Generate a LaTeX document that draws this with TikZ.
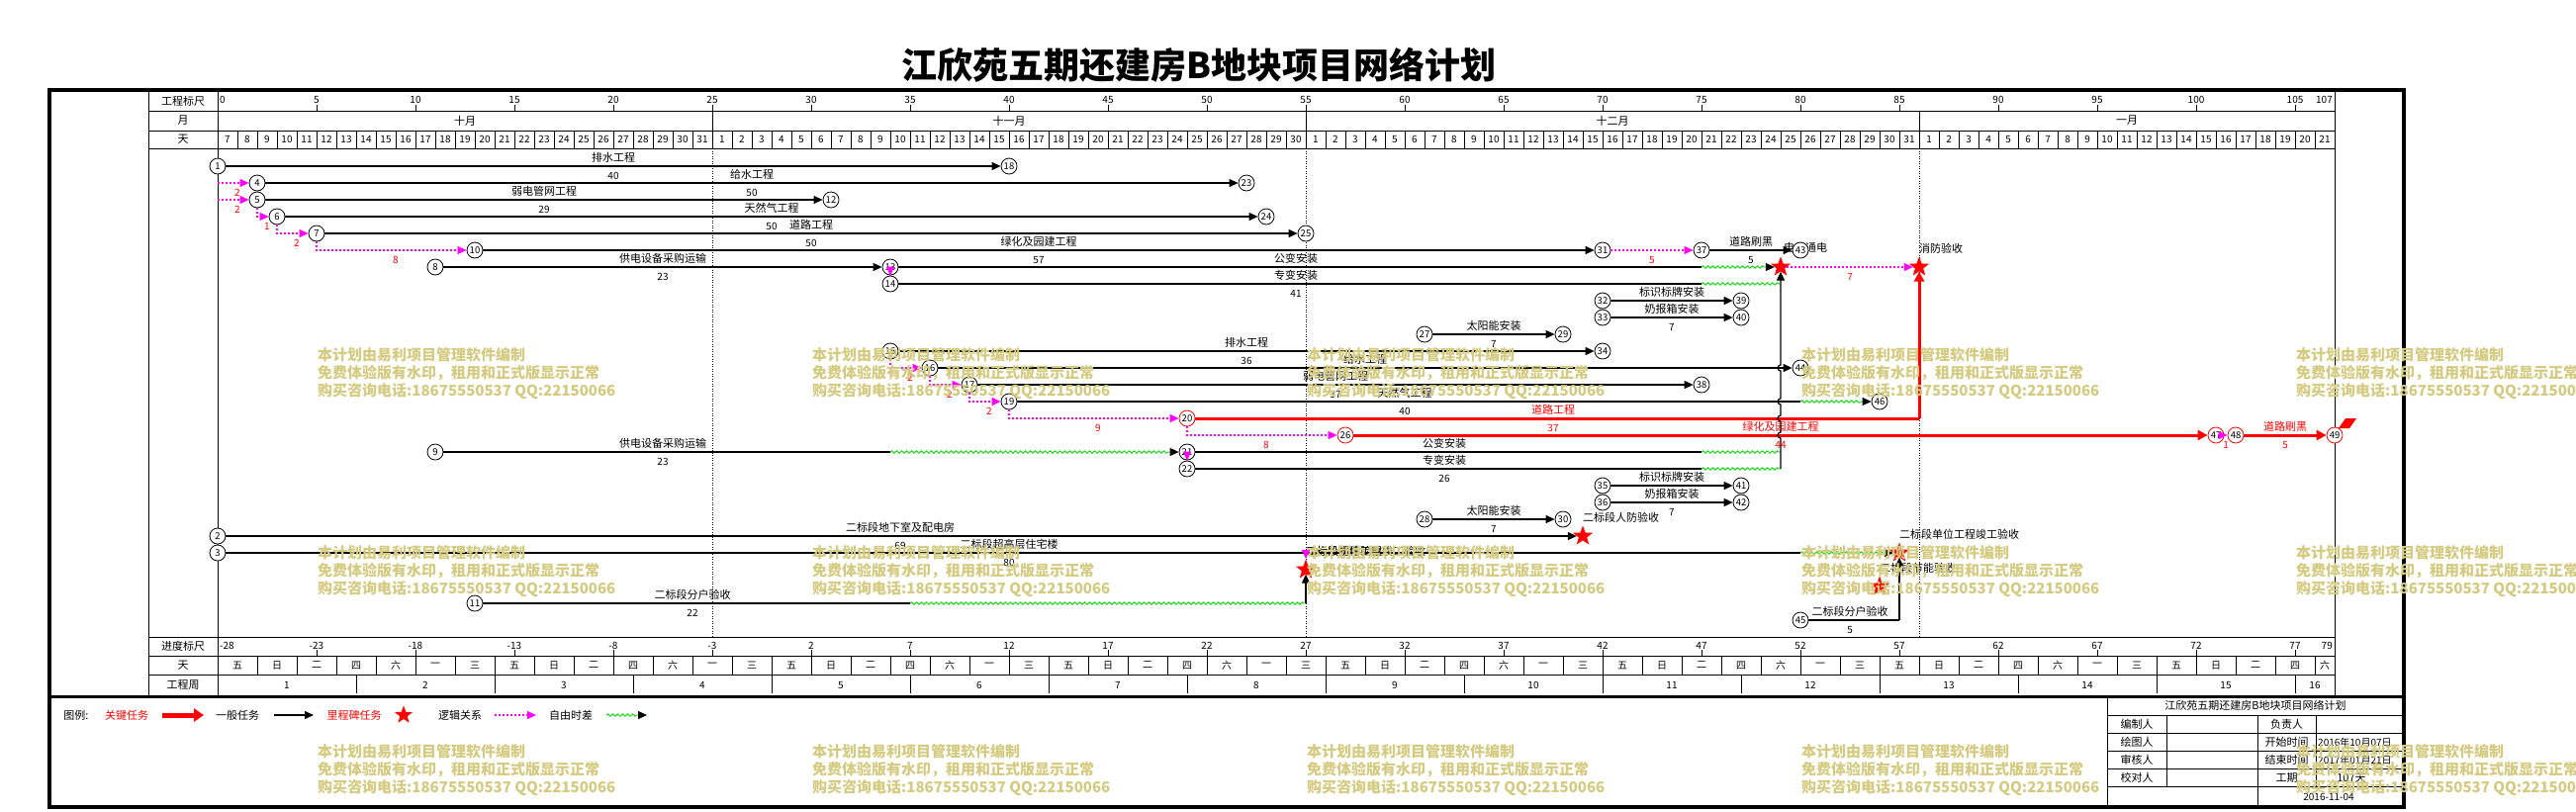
\documentclass[tikz,border=0pt]{standalone}
\usepackage{fontspec}
\setmainfont{Noto Sans CJK SC}
\usetikzlibrary{arrows.meta,shapes.geometric,decorations.pathmorphing}
\definecolor{cred}{RGB}{255,0,0}
\definecolor{cmag}{RGB}{255,0,255}
\definecolor{cgrn}{RGB}{0,220,0}
\definecolor{cwm}{RGB}{212,202,128}
\tikzset{
  f9/.style={font=\fontsize{9.5}{9.5}\selectfont},
  f10/.style={font=\fontsize{10}{10}\selectfont},
  f11/.style={font=\fontsize{11}{11}\selectfont},
  nd/.style={circle,draw,fill=white,inner sep=0pt,minimum size=16pt,line width=0.8pt,f9},
  ndr/.style={nd,draw=cred},
  ms/.style={star,star points=5,star point ratio=2.4,fill=cred,draw=none,inner sep=0pt,minimum size=21pt},
  tk/.style={line width=1.2pt,-{Triangle[length=9pt,width=8pt]}},
  tkn/.style={line width=1.2pt},
  crit/.style={draw=cred,line width=3pt,-{Triangle[length=10pt,width=10pt,color=cred]}},
  critn/.style={draw=cred,line width=3pt},
  lg/.style={draw=cmag,line width=1.2pt,dash pattern=on 1.5pt off 2.5pt,-{Triangle[length=9pt,width=8pt,color=cmag]}},
  wv/.style={draw=cgrn,line width=0.9pt,decorate,decoration={snake,amplitude=1.2pt,segment length=5pt,post length=9pt},-{Triangle[length=9pt,width=8pt,color=black]}},
  wvn/.style={draw=cgrn,line width=0.9pt,decorate,decoration={snake,amplitude=1.2pt,segment length=5pt}},
  nm/.style={f11,inner sep=0pt,yshift=8.5pt},
  du/.style={f10,inner sep=0pt,yshift=-10pt},
  nmr/.style={nm,text=cred},
  dur/.style={du,text=cred},
  msl/.style={f11,anchor=west,inner sep=0pt,yshift=19pt},
  hd/.style={f10,inner sep=0pt},
  hc/.style={f11,inner sep=0pt},
  wmk/.style={text=cwm,font=\fontsize{15}{15}\selectfont\bfseries,anchor=west,inner sep=0pt},
  gl/.style={line width=0.8pt},
  mdot/.style={line width=0.6pt,dash pattern=on 1pt off 1.5pt},
  bump/.style={start angle=-90,end angle=-270,radius=3pt},
}
\begin{document}
\begin{tikzpicture}[x=1pt,y=-1pt]
\fill[white] (0,0) rectangle (2604,820);
\useasboundingbox (0,0) rectangle (2604,820);
% title
\node[font=\fontsize{36}{36}\selectfont\bfseries,inner sep=0pt] (title) at (1212,66) {江欣苑五期还建房B地块项目网络计划};
% frame
\draw[line width=4pt] (50,91) rectangle (2430,816);
\draw[line width=3pt] (50,704) -- (2430,704);
% grid lines
\foreach \yy in {112,132,150,644,663,682} \draw[gl] (150,\yy) -- (2360,\yy);
\draw[gl] (150,91) -- (150,704);
\draw[line width=0.5pt] (220,91) -- (220,704);
\draw[gl] (2360,91) -- (2360,704);
\foreach \mx in {720,1320,1940} {\draw[gl] (\mx,112) -- (\mx,132); \draw[mdot] (\mx,150) -- (\mx,644);}
% label column
\node[hc] (h1) at (185,102) {工程标尺};
\node[hc] (h2) at (185,122) {月};
\node[hc] (h3) at (185,141) {天};
\node[hc] (h4) at (185,653.5) {进度标尺};
\node[hc] (h5) at (185,672.5) {天};
\node[hc] (h6) at (185,692.5) {工程周};
% months
\node[hc] (mo1) at (470,122) {十月};
\node[hc] (mo2) at (1020,122) {十一月};
\node[hc] (mo3) at (1630,122) {十二月};
\node[hc] (mo4) at (2150,122) {一月};
\begin{scope}[shift={(220,0)},x=20pt,y=-1pt]
  \foreach \i in {1,...,106} \draw[line width=0.6pt] (\i,132) -- (\i,150);
  \foreach \i in {0,...,106} {
    \pgfmathtruncatemacro\dd{\i<25 ? \i+7 : (\i<55 ? \i-24 : (\i<86 ? \i-54 : \i-85))}
    \node[hd] at (\i+0.5,141) {\dd};
  }
  \foreach \d in {5,10,...,105} {
    \draw[gl] (\d,106) -- (\d,112);
    \node[hd] at (\d,101) {\d};
    \pgfmathtruncatemacro\vv{\d-28}
    \draw[gl] (\d,657) -- (\d,663);
    \node[hd] at (\d,652.5) {\vv};
  }
  \node[hd,anchor=west] (z0) at (0.1,101) {0};
  \node[hd,anchor=east] (z107) at (106.9,101) {107};
  \node[hd,anchor=west] (b0) at (0.1,652.5) {-28};
  \node[hd,anchor=east] (b107) at (106.9,652.5) {79};
  \foreach \j in {1,...,53} \draw[line width=0.6pt] (2*\j,663) -- (2*\j,682);
  \foreach \j in {0,...,52} {
    \pgfmathtruncatemacro\kk{mod(\j,7)}
    \node[hd] at (2*\j+1,672.5) {\ifcase\kk 五\or 日\or 二\or 四\or 六\or 一\or 三\fi};
  }
  \node[hd] (wd) at (106.5,672.5) {六};
  \foreach \w in {1,...,15} {
    \draw[line width=0.6pt] (7*\w,682) -- (7*\w,701);
    \node[hd] at ({7*\w-3.5},692.5) {\w};
  }
  \node[hd] (wk16) at (106,692.5) {16};
\end{scope}
% ================= network =================
\begin{scope}[shift={(220,168)},x=20pt,y=-17pt]
\node[nm] (L1) at (20,0) {排水工程};        \node[du] (D1) at (20,0) {40};
\node[nm] (L2) at (27,1) {给水工程};        \node[du] (D2) at (27,1) {50};
\node[nm] (L3) at (16.5,2) {弱电管网工程};  \node[du] (D3) at (16.5,2) {29};
\node[nm] (L4) at (28,3) {天然气工程};      \node[du] (D4) at (28,3) {50};
\node[nm] (L5) at (30,4) {道路工程};        \node[du] (D5) at (30,4) {50};
\node[nm] (L6) at (41.5,5) {绿化及园建工程}; \node[du] (D6) at (41.5,5) {57};
\node[nm] (L7) at (77.5,5) {道路刷黑};      \node[du] (D7) at (77.5,5) {5};
\node[nm] (L8) at (22.5,6) {供电设备采购运输}; \node[du] (D8) at (22.5,6) {23};
\node[nm] (L9) at (54.5,6) {公变安装};
\node[nm] (L10) at (54.5,7) {专变安装};     \node[du] (D10) at (54.5,7) {41};
\node[nm] (L11) at (73.5,8) {标识标牌安装};
\node[nm] (L12) at (73.5,9) {奶报箱安装};   \node[du] (D12) at (73.5,9) {7};
\node[nm] (L13) at (64.5,10) {太阳能安装};  \node[du] (D13) at (64.5,10) {7};
\node[nm] (L14) at (52,11) {排水工程};      \node[du] (D14) at (52,11) {36};
\node[nm] (L15) at (58,12) {给水工程};
\node[nm] (L16) at (56.5,13) {弱电管网工程}; \node[du] (D16) at (56.5,13) {37};
\node[nm] (L17) at (60,14) {天然气工程};    \node[du] (D17) at (60,14) {40};
\node[nmr] (L18) at (67.5,15) {道路工程};   \node[dur] (D18) at (67.5,15) {37};
\node[nmr] (L19) at (79,16) {绿化及园建工程}; \node[dur] (D19) at (79,16) {44};
\node[nmr] (L20) at (104.5,16) {道路刷黑};  \node[dur] (D20) at (104.5,16) {5};
\node[dur] (D21) at (101.5,16) {1};
\node[nm] (L22) at (22.5,17) {供电设备采购运输}; \node[du] (D22) at (22.5,17) {23};
\node[nm] (L23) at (62,17) {公变安装};
\node[nm] (L24) at (62,18) {专变安装};      \node[du] (D24) at (62,18) {26};
\node[nm] (L25) at (73.5,19) {标识标牌安装};
\node[nm] (L26) at (73.5,20) {奶报箱安装};  \node[du] (D26) at (73.5,20) {7};
\node[nm] (L27) at (64.5,21) {太阳能安装};  \node[du] (D27) at (64.5,21) {7};
\node[nm] (L28) at (34.5,22) {二标段地下室及配电房}; \node[du] (D28) at (34.5,22) {69};
\node[nm] (L29) at (40,23) {二标段超高层住宅楼}; \node[du] (D29) at (40,23) {80};
\node[nm] (L30) at (24,26) {二标段分户验收}; \node[du] (D30) at (24,26) {22};
\node[nm] (L31) at (82.5,27) {二标段分户验收}; \node[du] (D31) at (82.5,27) {5};
% lag labels
\node[dur] (G1) at (1,1) {2}; \node[dur] (G2) at (1,2) {2}; \node[dur] (G3) at (2.5,3) {1};
\node[dur] (G4) at (4,4) {2}; \node[dur] (G5) at (9,5) {8}; \node[dur] (G6) at (72.5,5) {5};
\node[dur] (G7) at (82.5,6) {7};
\node[dur] (G8) at (35,12) {2}; \node[dur] (G9) at (37,13) {2}; \node[dur] (G10) at (39,14) {2};
\node[dur] (G11) at (44.5,15) {9}; \node[dur] (G12) at (53,16) {8};
\node[f11,inner sep=0pt,yshift=3pt] (M0) at (80.25,5) {电力通电};
% nodes
\node[nd] (n1) at (0,0) {1};
\node[nd] (n4) at (2,1) {4};
\node[nd] (n5) at (2,2) {5};
\node[nd] (n6) at (3,3) {6};
\node[nd] (n7) at (5,4) {7};
\node[nd] (n10) at (13,5) {10};
\node[nd] (n8) at (11,6) {8};
\node[nd] (n13) at (34,6) {13};
\node[nd] (n14) at (34,7) {14};
\node[nd] (n12) at (31,2) {12};
\node[nd] (n18) at (40,0) {18};
\node[nd] (n23) at (52,1) {23};
\node[nd] (n24) at (53,3) {24};
\node[nd] (n25) at (55,4) {25};
\node[nd] (n31) at (70,5) {31};
\node[nd] (n37) at (75,5) {37};
\node[nd] (n43) at (80,5) {43};
\node[nd] (n32) at (70,8) {32};
\node[nd] (n39) at (77,8) {39};
\node[nd] (n33) at (70,9) {33};
\node[nd] (n40) at (77,9) {40};
\node[nd] (n27) at (61,10) {27};
\node[nd] (n29) at (68,10) {29};
\node[nd] (n15) at (34,11) {15};
\node[nd] (n34) at (70,11) {34};
\node[nd] (n16) at (36,12) {16};
\node[nd] (n44) at (80,12) {44};
\node[nd] (n17) at (38,13) {17};
\node[nd] (n38) at (75,13) {38};
\node[nd] (n19) at (40,14) {19};
\node[nd] (n46) at (84,14) {46};
\node[ndr] (n20) at (49,15) {20};
\node[ndr] (n26) at (57,16) {26};
\node[ndr] (n47) at (101,16) {47};
\node[ndr] (n48) at (102,16) {48};
\node[ndr] (n49) at (107,16) {49};
\node[nd] (n9) at (11,17) {9};
\node[nd] (n21) at (49,17) {21};
\node[nd] (n22) at (49,18) {22};
\node[nd] (n35) at (70,19) {35};
\node[nd] (n41) at (77,19) {41};
\node[nd] (n36) at (70,20) {36};
\node[nd] (n42) at (77,20) {42};
\node[nd] (n28) at (61,21) {28};
\node[nd] (n30) at (68,21) {30};
\node[nd] (n2) at (0,22) {2};
\node[nd] (n3) at (0,23) {3};
\node[nd] (n11) at (13,26) {11};
\node[nd] (n45) at (80,27) {45};
\node[ms] (s1) at (79,6) {};
\node[ms] (s2) at (86,6) {};
\node[ms] (s3) at (69,22) {};
\node[ms] (s4) at (85,23) {};
\node[ms] (s5) at (55,24) {};
\node[ms] (s6) at (84,25) {};
% milestone labels
\node[msl] (M1) at (86,6) {消防验收};
\node[msl] (M2) at (69,22) {二标段人防验收};
\node[msl] (M3) at (85,23) {二标段单位工程竣工验收};
\node[msl] (M4) at (55,24) {二标段幕墙工程竣工验收};
\node[msl] (M5) at (55,24) {二标段主体验收};
\node[msl] (M6) at (84,25) {二标段节能验收};
% bend points
\coordinate (a1) at (0,1); \coordinate (a2) at (0,2);
\coordinate (b3) at (2,3); \coordinate (b4) at (3,4); \coordinate (b5) at (5,5);
\coordinate (c12) at (34,12); \coordinate (c13) at (36,13); \coordinate (c14) at (38,14);
\coordinate (c15) at (40,15); \coordinate (c16) at (49,16);
\coordinate (w6) at (75,6); \coordinate (w7) at (75,7); \coordinate (w7e) at (79,7);
\coordinate (w14) at (80,14); \coordinate (r15) at (86,15);
\coordinate (w17a) at (34,17); \coordinate (w17b) at (75,17); \coordinate (w17e) at (79,17);
\coordinate (w18) at (75,18); \coordinate (v18) at (79,18);
\coordinate (w23) at (80,23); \coordinate (m23) at (55,23);
\coordinate (w26a) at (35,26); \coordinate (w26b) at (55,26); \coordinate (e27) at (85,27);
\coordinate (x16) at (79,16); \coordinate (x15) at (79,15);
\coordinate (x14) at (79,14); \coordinate (x12) at (79,12);
% connectors
\draw[lg] (a1) -- (n4);
\draw[lg] (a2) -- (n5);
\draw[lg] (n5) -- (b3) -- (n6);
\draw[lg] (n6) -- (b4) -- (n7);
\draw[lg] (n7) -- (b5) -- (n10);
\draw[tk] (n1) -- (n18);
\draw[tk] (n4) -- (n23);
\draw[tk] (n5) -- (n12);
\draw[tk] (n6) -- (n24);
\draw[tk] (n7) -- (n25);
\draw[tk] (n10) -- (n31);
\draw[lg] (n31) -- (n37);
\draw[tk] (n37) -- (n43);
\draw[tk] (n8) -- (n13);
\draw[tkn] (n13) -- (w6); \draw[wv] (w6) -- (s1);
\draw[tkn] (n14) -- (w7); \draw[wvn] (w7) -- (w7e);
\draw[lg] (s1) -- (s2);
\draw[tk] (n32) -- (n39);
\draw[tk] (n33) -- (n40);
\draw[tk] (n27) -- (n29);
\draw[tk] (n15) -- (n34);
\draw[lg] (n15) -- (c12) -- (n16);
\draw[tk] (n16) -- (n44);
\draw[lg] (n16) -- (c13) -- (n17);
\draw[tk] (n17) -- (n38);
\draw[lg] (n17) -- (c14) -- (n19);
\draw[tkn] (n19) -- (w14); \draw[wv] (w14) -- (n46);
\draw[lg] (n19) -- (c15) -- (n20);
\draw[critn] (n20) -- (r15); \draw[crit] (r15) -- (s2);
\draw[lg] (n20) -- (c16) -- (n26);
\draw[crit] (n26) -- (n47);
\draw[lg] (n47) -- (n48);
\draw[crit] (n48) -- (n49);
\draw[tkn] (n9) -- (w17a); \draw[wv] (w17a) -- (n21);
\draw[tkn] (n21) -- (w17b); \draw[wvn] (w17b) -- (w17e);
\draw[tkn] (n22) -- (w18); \draw[wvn] (w18) -- (v18);
% vertical collector with bridge jumps
\draw[tk] (v18) -- ([yshift=-3pt]x16) arc[bump] -- ([yshift=-3pt]x15) arc[bump]
  -- ([yshift=-3pt]x14) arc[bump] -- ([yshift=-3pt]x12) arc[bump] -- (s1);
\draw[tk] (n35) -- (n41);
\draw[tk] (n36) -- (n42);
\draw[tk] (n28) -- (n30);
\draw[tk] (n2) -- (s3);
\draw[tkn] (n3) -- (w23); \draw[wv] (w23) -- (s4);
\draw[lg] (m23) -- (s5);
\draw[tkn] (n11) -- (w26a); \draw[wvn] (w26a) -- (w26b); \draw[tk] (w26b) -- (s5);
\draw[tkn] (n45) -- (e27); \draw[tk] (e27) -- (s4);
\draw[lg] (n13.south) -- (n14.north);
\draw[lg] (n21.south) -- (n22.north);
\end{scope}
% flag on node 49
\fill[cred] (2364,433) -- (2371,423) -- (2382,423) -- (2375,433) -- cycle;
% ================= legend =================
\node[hc] (lg0) at (77,723) {图例:};
\node[hc,text=cred] (lg1) at (128,723) {关键任务};
\coordinate (la1) at (164,723); \coordinate (la2) at (206,723);
\draw[cred,line width=5pt,-{Triangle[length=10pt,width=13pt]}] (la1) -- (la2);
\node[hc] (lg2) at (240,723) {一般任务};
\coordinate (lb1) at (277,723); \coordinate (lb2) at (317,723);
\draw[tk] (lb1) -- (lb2);
\node[hc,text=cred] (lg3) at (358,723) {里程碑任务};
\node[ms,minimum size=19pt] (lgs) at (408,723) {};
\node[hc] (lg4) at (465,723) {逻辑关系};
\coordinate (lc1) at (500,723); \coordinate (lc2) at (542,723);
\draw[lg] (lc1) -- (lc2);
\node[hc] (lg5) at (577,723) {自由时差};
\coordinate (ld1) at (613,723); \coordinate (ld2) at (654,723);
\draw[wv] (ld1) -- (ld2);
% ================= title block =================
\draw[gl] (2130,704) -- (2130,816);
\foreach \yy in {723,741.7,759.3,777.3,795.3} \draw[gl] (2130,\yy) -- (2430,\yy);
\draw[gl] (2190,723) -- (2190,795.3);
\draw[gl] (2282,723) -- (2282,816);
\draw[gl] (2341,723) -- (2341,795.3);
\node[hc] (tb0) at (2280,713.5) {江欣苑五期还建房B地块项目网络计划};
\node[hc] (tb1) at (2160,732.4) {编制人};
\node[hc] (tb2) at (2311.5,732.4) {负责人};
\node[hc] (tb3) at (2160,750.5) {绘图人};
\node[hc] (tb4) at (2311.5,750.5) {开始时间};
\node[f10,inner sep=0pt,anchor=west] (tb5) at (2343,750.5) {2016年10月07日};
\node[hc] (tb6) at (2160,768.3) {审核人};
\node[hc] (tb7) at (2311.5,768.3) {结束时间};
\node[f10,inner sep=0pt,anchor=west] (tb8) at (2343,768.3) {2017年01月21日};
\node[hc] (tb9) at (2160,786.3) {校对人};
\node[hc] (tb10) at (2311.5,786.3) {工期};
\node[hc] (tb11) at (2377,786.3) {107天};
\node[f10,inner sep=0pt] (tb12) at (2354,805.5) {2016-11-04};
% ================= watermarks =================
\foreach \wx in {321,821,1321,1821,2321} \foreach \wy in {359,559,760} {
  \node[wmk] at (\wx,\wy) {本计划由易利项目管理软件编制};
  \node[wmk] at (\wx,\wy+18.3) {免费体验版有水印，租用和正式版显示正常};
  \node[wmk] at (\wx,\wy+36.3) {购买咨询电话:18675550537 QQ:22150066};
}
\end{tikzpicture}
\end{document}
